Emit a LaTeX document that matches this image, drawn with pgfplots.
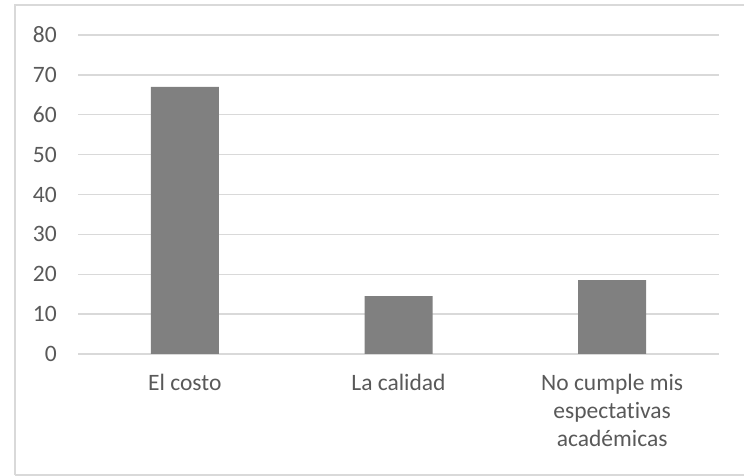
\documentclass[border=0pt]{standalone}
\usepackage{fontspec}
\setmainfont{Carlito}[Ligatures=NoCommon]
\usepackage{pgfplots}
\pgfplotsset{compat=1.18}
\definecolor{txt}{HTML}{595959}
\definecolor{gridc}{HTML}{D9D9D9}
\definecolor{barc}{HTML}{808080}
\begin{document}
\begin{tikzpicture}[x=1pt,y=1pt]
\useasboundingbox (0,0) rectangle (744,476);
% chart frame
\draw[gridc, line width=1.2pt] (15,1) -- (15,471) -- (760,471);
\draw[gridc, line width=1.2pt] (15,1) -- (760,1);
\begin{axis}[
  at={(78pt,122pt)}, anchor=south west,
  scale only axis, width=641pt, height=319pt,
  ymin=0, ymax=80, ytick={0,10,...,80},
  xmin=-0.5, xmax=2.5, xtick={0,1,2},
  xticklabels={El costo, La calidad, {No cumple mis\\espectativas\\académicas}},
  axis line style={draw=none},
  major tick style={draw=none},
  ymajorgrids, major grid style={gridc, line width=1.3pt},
  /pgf/number format/assume math mode=true,
  yticklabel style={text=txt, font=\fontsize{23.5}{28}\selectfont, anchor=east, inner sep=0pt, xshift=-21pt},
  xticklabel style={text=txt, font=\fontsize{23.5}{28}\selectfont, align=center, anchor=north, inner sep=0pt, yshift=-20pt},
  clip=false,
]
\addplot[ybar, fill=barc, draw=none, bar width=68pt] coordinates {(0,67) (1,14.5) (2,18.5)};
\end{axis}
\end{tikzpicture}
\end{document}
